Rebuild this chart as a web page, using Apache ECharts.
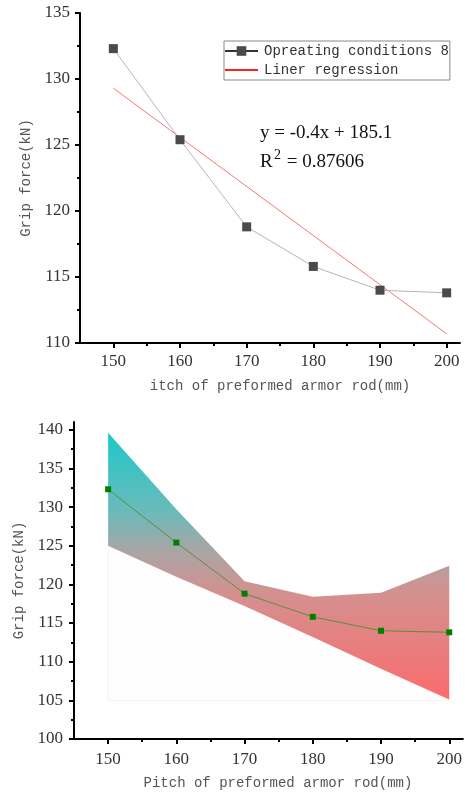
<!DOCTYPE html>
<html>
<head>
<meta charset="utf-8">
<script src="https://cdn.jsdelivr.net/npm/echarts@6/dist/echarts.min.js"></script>
<style>
  html, body { margin: 0; padding: 0; background: #fff; }
  #chart { width: 465px; height: 795px; }
</style>
</head>
<body>
<div id="chart"></div>
<script>
// pitch of preformed armor rod (mm)
const pitch = [150, 160, 170, 180, 190, 200];
// grip force, operating conditions 8 (kN)
const gripForce = [132.3, 125.4, 118.8, 115.8, 114.0, 113.8];
// linear fit end points
const fitX = [150, 200];
const fitY = [129.3, 110.7];
// band around the curve (lower / upper edge) and its floor
const bandLower = [125.0, 121.0, 117.2, 113.2, 109.1, 105.1];
const bandUpper = [139.6, 129.7, 120.4, 118.4, 118.9, 122.4];
const bandFloor = 105;

const majorX = [150, 160, 170, 180, 190, 200];
const minorX = [155, 165, 175, 185, 195];
const majorYBottom = [100, 105, 110, 115, 120, 125, 130, 135, 140];
const minorYBottom = [102.5, 107.5, 112.5, 117.5, 122.5, 127.5, 132.5, 137.5];

const monoFont = '"Liberation Mono", "DejaVu Sans Mono", monospace';
const serifFont = '"Liberation Serif", "DejaVu Serif", serif';

const pairs = (xs, ys) => xs.map((x, i) => [x, ys[i]]);

const chart = echarts.init(document.getElementById('chart'));

const axisLineStyle = { show: true, onZero: false, lineStyle: { color: '#000', width: 2 } };
const labelStyle = { color: '#333', fontFamily: serifFont, fontSize: 17 };
const nameStyle = { color: '#555', fontFamily: monoFont, fontSize: 14 };
const tickLine = { color: '#000', width: 2 };
const eqFont = '19px "Liberation Serif", serif';

// polygon between two edges, drawn once through the axis scales
function bandItem(top, bottom, style) {
  return function (params, api) {
    if (params.dataIndex !== 0) return null;
    const pts = [];
    pitch.forEach((x, i) => pts.push(api.coord([x, top[i]])));
    for (let i = pitch.length - 1; i >= 0; i--) {
      pts.push(api.coord([pitch[i], typeof bottom === 'number' ? bottom : bottom[i]]));
    }
    return { type: 'polygon', shape: { points: pts }, style: style };
  };
}

const option = {
  animation: false,
  grid: [
    { left: 80, right: 5, top: 13, height: 330 },
    { left: 74, right: 2, top: 422, height: 317 }
  ],
  legend: {
    left: 224,
    top: 41,
    orient: 'vertical',
    itemGap: 5,
    itemWidth: 33,
    itemHeight: 12,
    padding: [3, 1, 3, 0],
    borderColor: '#888',
    borderWidth: 1,
    textStyle: { fontFamily: monoFont, fontSize: 14, color: '#333', padding: [0, 0, 0, 1] },
    data: [
      { name: 'Opreating conditions 8', lineStyle: { color: '#333' } },
      { name: 'Liner regression', itemStyle: { opacity: 0 }, lineStyle: { color: '#ff2020' } }
    ]
  },
  xAxis: [
    {
      gridIndex: 0, type: 'value', min: 145, max: 202, position: 'bottom',
      name: 'itch of preformed armor rod(mm)', nameLocation: 'middle', nameGap: 36,
      nameTextStyle: Object.assign({ padding: [0, 0, 0, 20] }, nameStyle),
      axisLine: axisLineStyle,
      axisTick: { show: true, length: 5, customValues: majorX, lineStyle: tickLine },
      axisLabel: Object.assign({ margin: 10, customValues: majorX }, labelStyle),
      splitLine: { show: false }
    },
    {
      gridIndex: 0, type: 'value', min: 145, max: 202, position: 'bottom',
      axisLine: { show: false, onZero: false },
      axisTick: { show: true, length: 3, customValues: minorX, lineStyle: tickLine },
      axisLabel: { show: false },
      splitLine: { show: false }
    },
    {
      gridIndex: 1, type: 'value', min: 145, max: 202, position: 'bottom',
      name: 'Pitch of preformed armor rod(mm)', nameLocation: 'middle', nameGap: 37,
      nameTextStyle: Object.assign({ padding: [0, 0, 0, 19] }, nameStyle),
      axisLine: axisLineStyle,
      axisTick: { show: true, length: 5, customValues: majorX, lineStyle: tickLine },
      axisLabel: Object.assign({ margin: 12, customValues: majorX }, labelStyle),
      splitLine: { show: false }
    },
    {
      gridIndex: 1, type: 'value', min: 145, max: 202, position: 'bottom',
      axisLine: { show: false, onZero: false },
      axisTick: { show: true, length: 3, customValues: minorX, lineStyle: tickLine },
      axisLabel: { show: false },
      splitLine: { show: false }
    }
  ],
  yAxis: [
    {
      gridIndex: 0, type: 'value', min: 110, max: 135, interval: 5, position: 'left',
      name: 'Grip force(kN)', nameLocation: 'middle', nameGap: 46, nameTextStyle: nameStyle,
      axisLine: axisLineStyle,
      axisTick: { show: true, length: 5, lineStyle: tickLine },
      minorTick: { show: true, splitNumber: 2, length: 3, lineStyle: tickLine },
      axisLabel: Object.assign({ margin: 10 }, labelStyle),
      splitLine: { show: false }
    },
    {
      gridIndex: 1, type: 'value', min: 100, max: 141, position: 'left',
      name: 'Grip force(kN)', nameLocation: 'middle', nameGap: 47, nameTextStyle: nameStyle,
      axisLine: axisLineStyle,
      axisTick: { show: true, length: 5, customValues: majorYBottom, lineStyle: tickLine },
      axisLabel: Object.assign({ margin: 11, customValues: majorYBottom }, labelStyle),
      splitLine: { show: false }
    },
    {
      gridIndex: 1, type: 'value', min: 100, max: 141, position: 'left',
      axisLine: { show: false, onZero: false },
      axisTick: { show: true, length: 3, customValues: minorYBottom, lineStyle: tickLine },
      axisLabel: { show: false },
      splitLine: { show: false }
    }
  ],
  graphic: [
    { type: 'text', left: 260, top: 124, style: { text: 'y = -0.4x + 185.1', font: eqFont, fill: '#111' } },
    { type: 'text', left: 260, top: 153, style: { text: 'R', font: eqFont, fill: '#111' } },
    { type: 'text', left: 274, top: 148, style: { text: '2', font: '14px "Liberation Serif", serif', fill: '#111' } },
    { type: 'text', left: 282, top: 153, style: { text: ' = 0.87606', font: eqFont, fill: '#111' } }
  ],
  series: [
    {
      name: 'Opreating conditions 8',
      type: 'line',
      xAxisIndex: 0, yAxisIndex: 0,
      data: pairs(pitch, gripForce),
      symbol: 'rect', symbolSize: 9,
      itemStyle: { color: '#4a4a4a' },
      lineStyle: { color: '#b5b5b5', width: 1 },
      z: 3
    },
    {
      name: 'Liner regression',
      type: 'line',
      xAxisIndex: 0, yAxisIndex: 0,
      data: pairs(fitX, fitY),
      symbol: 'none',
      itemStyle: { color: '#ff3333' },
      lineStyle: { color: '#ff7373', width: 1 },
      z: 2
    },
    // almost white region from the floor up to the lower edge, faint outline
    {
      type: 'custom', xAxisIndex: 2, yAxisIndex: 1, silent: true,
      data: pitch,
      renderItem: bandItem(bandLower, bandFloor, { fill: '#fffefe', stroke: '#fcefef', lineWidth: 1 }),
      z: 1
    },
    // gradient band between lower and upper edge
    {
      type: 'custom', xAxisIndex: 2, yAxisIndex: 1, silent: true,
      data: pitch,
      renderItem: bandItem(bandUpper, bandLower, {
        fill: new echarts.graphic.LinearGradient(0, 0, 0, 1, [
          { offset: 0, color: '#1ec8c8' },
          { offset: 0.3, color: '#6cbaba' },
          { offset: 0.45, color: '#aca4a4' },
          { offset: 0.6, color: '#d49090' },
          { offset: 1, color: '#fb6c6c' }
        ])
      }),
      z: 2
    },
    {
      type: 'line', xAxisIndex: 2, yAxisIndex: 1,
      data: pairs(pitch, gripForce),
      symbol: 'rect', symbolSize: 6,
      itemStyle: { color: '#008000' },
      lineStyle: { color: '#5c8d3c', width: 1 },
      z: 5
    }
  ]
};

chart.setOption(option);
window.addEventListener('resize', () => chart.resize());
</script>
</body>
</html>
